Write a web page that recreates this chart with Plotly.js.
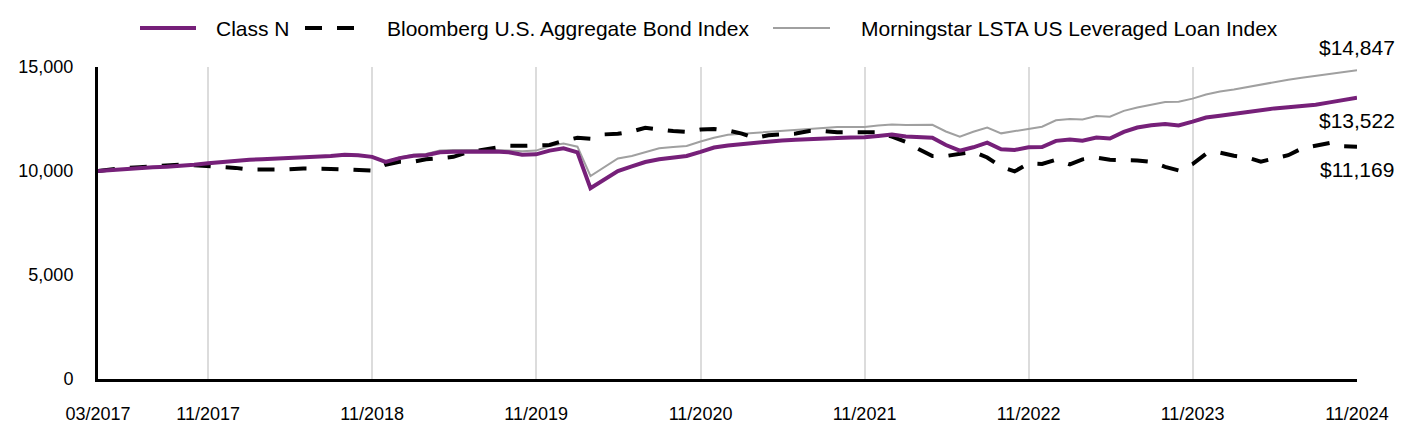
<!DOCTYPE html>
<html>
<head>
<meta charset="utf-8">
<script src="https://cdn.plot.ly/plotly-3.0.1.min.js"></script>
<style>html,body{margin:0;padding:0;background:#fff;}#chart{width:1416px;height:444px;}</style>
</head>
<body>
<div id="chart"></div>
<script>
// Monthly values, 03/2017 .. 11/2024
const startYear = 2017, startMonth = 3;
const seriesNames = ['Class N', 'Bloomberg U.S. Aggregate Bond Index', 'Morningstar LSTA US Leveraged Loan Index'];
const classN = [
10000,10050,10100,10150,10180,10200,10230,10300,10370,10430,10520,10540,10560,10590,10610,10630,10660,10720,10780,10760,
10680,10440,10620,10730,10760,10900,10920,10930,10960,10940,10900,10780,10800,10980,11090,10900,9170,9580,10000,10220,
10430,10560,10660,10720,10920,11130,11230,11300,11360,11420,11470,11500,11540,11570,11590,11610,11620,11680,11750,11660,
11640,11600,11250,10980,11140,11360,11040,11010,11140,11150,11450,11510,11460,11610,11560,11880,12090,12200,12260,12190,
12370,12570,12660,12760,12860,12930,13010,13070,13120,13190,13300,13410,13522];
const bloomberg = [
10000,10080,10150,10180,10230,10290,10310,10280,10240,10200,10150,10070,10070,10080,10080,10120,10130,10100,10080,10070,
10020,10300,10440,10450,10560,10610,10680,10900,11000,11120,11220,11210,11230,11250,11450,11600,11550,11760,11790,11900,
12080,11980,11920,11880,11990,12020,11950,11800,11580,11720,11740,11800,11920,11920,11860,11860,11870,11860,11650,11400,
11060,10720,10720,10800,10920,10650,10200,9980,10360,10340,10540,10320,10560,10650,10540,10520,10510,10440,10200,10030,
10330,10830,10880,10730,10650,10450,10620,10760,11080,11230,11350,11190,11169];
const morningstar = [
10000,10040,10090,10140,10170,10200,10240,10300,10360,10420,10500,10530,10560,10590,10610,10640,10670,10720,10770,10760,
10700,10450,10650,10780,10820,10990,11010,11010,11030,11010,10990,10950,10980,11200,11320,11170,9760,10200,10600,10720,
10900,11090,11150,11200,11420,11600,11740,11790,11830,11880,11950,11990,12030,12070,12110,12130,12120,12190,12240,12210,
12220,12220,11900,11650,11890,12090,11810,11920,12050,12130,12440,12500,12480,12640,12610,12890,13050,13200,13320,13330,
13480,13680,13820,13920,14040,14140,14290,14390,14480,14570,14660,14770,14847];
const tickDates = ['2017-03-01','2017-11-01','2018-11-01','2019-11-01','2020-11-01','2021-11-01','2022-11-01','2023-11-01','2024-11-01'];
const tickLabels = ['03/2017','11/2017','11/2018','11/2019','11/2020','11/2021','11/2022','11/2023','11/2024'];
const yTickVals = [0, 5000, 10000, 15000];
const yTickLabels = ['0', '5,000', '10,000', '15,000'];
const endLabels = ['$13,522','$11,169','$14,847'];

const dates = classN.map((_, i) => {
  const m0 = startMonth - 1 + i;
  const y = startYear + Math.floor(m0 / 12);
  const m = (m0 % 12) + 1;
  return y + '-' + String(m).padStart(2, '0') + '-01';
});
const lastDate = dates[dates.length - 1];
const FONT = 'Liberation Sans, Arial, sans-serif';

const PURPLE = '#762079', GRAY = '#a0a0a0', DASH = '17px,15px';
const styles = [
  {color: PURPLE, width: 4},
  {color: '#000000', width: 4, dash: DASH},
  {color: GRAY, width: 2}
];
const values = [classN, bloomberg, morningstar];

// draw order: gray beneath, then dashed, then purple
const data = [2, 1, 0].map(k => ({
  x: dates, y: values[k], name: seriesNames[k], mode: 'lines', line: styles[k], showlegend: false, hoverinfo: 'skip'
}));

// Plot area geometry (pixels) used for the custom legend placement
const L = 98, R = 59, T = 67, B = 65, W = 1416, H = 444;
const pw = W - L - R, ph = H - T - B;
const px = v => (v - L) / pw;
const py = v => (H - B - v) / ph;
const legY = 28;
const legendItems = [
  {s0: 140, s1: 196, t: 215},
  {s0: 305, s1: 358, t: 386},
  {s0: 773, s1: 830, t: 860}
];
const shapes = legendItems.map((it, k) => ({
  type: 'line', xref: 'paper', yref: 'paper', x0: px(it.s0), x1: px(it.s1), y0: py(legY), y1: py(legY),
  line: styles[k]
}));
const legendTexts = legendItems.map((it, k) => ({
  xref: 'paper', yref: 'paper', x: px(it.t), y: py(legY), xanchor: 'left', yanchor: 'middle',
  text: seriesNames[k], showarrow: false, borderpad: 0, font: {family: FONT, size: 21, color: '#000'}
}));

const layout = {
  width: W, height: H,
  margin: {l: L, r: R, t: T, b: B},
  paper_bgcolor: '#ffffff', plot_bgcolor: '#ffffff',
  font: {family: FONT, size: 18, color: '#000'},
  showlegend: false,
  xaxis: {type: 'date', range: [dates[0], lastDate], tickvals: tickDates, ticktext: tickLabels,
          showgrid: true, gridcolor: '#dcdcdc', gridwidth: 2, zeroline: false,
          showline: true, linecolor: '#000', linewidth: 3, ticks: '', ticklabelstandoff: 16,
          tickfont: {family: FONT, size: 18, color: '#000'}},
  yaxis: {range: [0, 15000], tickvals: yTickVals, ticktext: yTickLabels,
          showgrid: false, zeroline: false, showline: true, linecolor: '#000', linewidth: 3, ticks: '',
          ticklabelstandoff: 18, tickfont: {family: FONT, size: 18, color: '#000'}},
  shapes: shapes,
  annotations: legendTexts.concat([
    {x: lastDate, y: morningstar[morningstar.length - 1], text: endLabels[2], showarrow: false, xanchor: 'center', yanchor: 'middle', yshift: 23, font: {family: FONT, size: 21, color: '#000'}},
    {x: lastDate, y: classN[classN.length - 1], text: endLabels[0], showarrow: false, xanchor: 'center', yanchor: 'middle', yshift: -23, font: {family: FONT, size: 21, color: '#000'}},
    {x: lastDate, y: bloomberg[bloomberg.length - 1], text: endLabels[1], showarrow: false, xanchor: 'center', yanchor: 'middle', yshift: -23, font: {family: FONT, size: 21, color: '#000'}}
  ])
};
Plotly.newPlot('chart', data, layout, {staticPlot: true, displayModeBar: false});
</script>
</body>
</html>
